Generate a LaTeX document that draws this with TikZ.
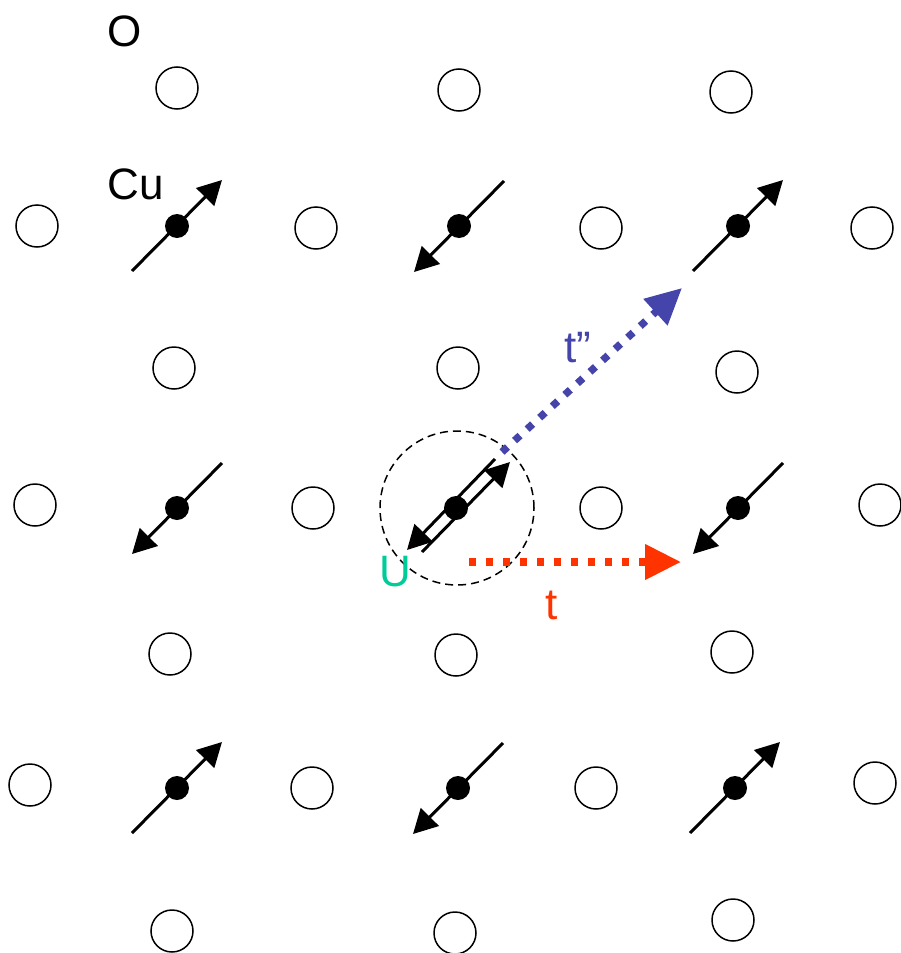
\documentclass[tikz,border=0pt]{standalone}
\usepackage{fontspec}
\setmainfont{Liberation Sans}
\usetikzlibrary{arrows.meta, positioning}
\definecolor{hopBlue}{RGB}{68,68,170}
\definecolor{hopRed}{RGB}{255,51,0}
\definecolor{uTeal}{RGB}{0,204,153}

\begin{document}
\begin{tikzpicture}[
  x=0.5pt, y=-0.5pt,
  oxy/.style={circle, draw, line width=0.75pt, minimum size=21pt, inner sep=0pt},
  cu/.style={circle, fill, minimum size=12pt, inner sep=0pt},
  spin/.style={line width=1.5pt, -{Triangle[length=12pt, width=12.5pt]}},
  hop/.style={line width=3.7pt, dash pattern=on 3.7pt off 4.8pt,
              -{Triangle[length=18pt, width=17pt]}},
  lbl/.style={font=\fontsize{22}{24}\selectfont, inner sep=0pt}
]
  \useasboundingbox (0,0) rectangle (900,953);

  % oxygen sites
  \foreach \x/\y [count=\k] in {177/88, 459/90, 731/92,
      37/226, 316/228, 601/228, 872/228,
      174/368, 458/368, 737/372,
      35/505, 313/508, 601/508, 880/505,
      170/654, 456/655, 732/652,
      30/785, 312/788, 596/788, 875/783,
      172/931, 455/933, 733/920}
    \node[oxy] (o\k) at (\x,\y) {};

  % copper sites with spins (1 = up, -1 = down)
  \foreach \x/\y/\s [count=\k] in {177/226/1, 459/226/-1, 738/226/1,
      177/508/-1, 738/508/-1,
      177/788/1, 458/788/-1, 735/788/1} {
    \node[cu] (cu\k) at (\x,\y) {};
    \draw[spin] ([shift={(-45*\s,45*\s)}]cu\k.center)
      -- ([shift={(45*\s,-46*\s)}]cu\k.center);
  }

  % doubly occupied site
  \node[cu] (cu0) at (456,508) {};
  \draw[spin] ([shift={(-34,44)}]cu0.center) -- ([shift={(54,-46)}]cu0.center);
  \draw[spin] ([shift={(39,-49)}]cu0.center) -- ([shift={(-49,42)}]cu0.center);
  \node[circle, draw, line width=0.75pt, dash pattern=on 4pt off 2.5pt,
        minimum size=77pt, inner sep=0pt] (ucirc) at (457,508) {};

  % hoppings
  \coordinate (tpp-start) at (502,452);
  \coordinate (tpp-end) at (682,288);
  \coordinate (t-start) at (469,562);
  \coordinate (t-end) at (681,562);
  \draw[hop, hopBlue] (tpp-start) -- (tpp-end);
  \draw[hop, hopRed] (t-start) -- (t-end);

  % labels
  \node[lbl] (lO) at (125,31) {O};
  \node[lbl] (lCu) at (136,184) {Cu};
  \node[lbl, text=uTeal] (lU) at (395,572) {U};
  \node[lbl, text=hopBlue] (ltpp) at (578,348) {t”};
  \node[lbl, text=hopRed] (lt) at (552,605) {t};
\end{tikzpicture}
\end{document}
